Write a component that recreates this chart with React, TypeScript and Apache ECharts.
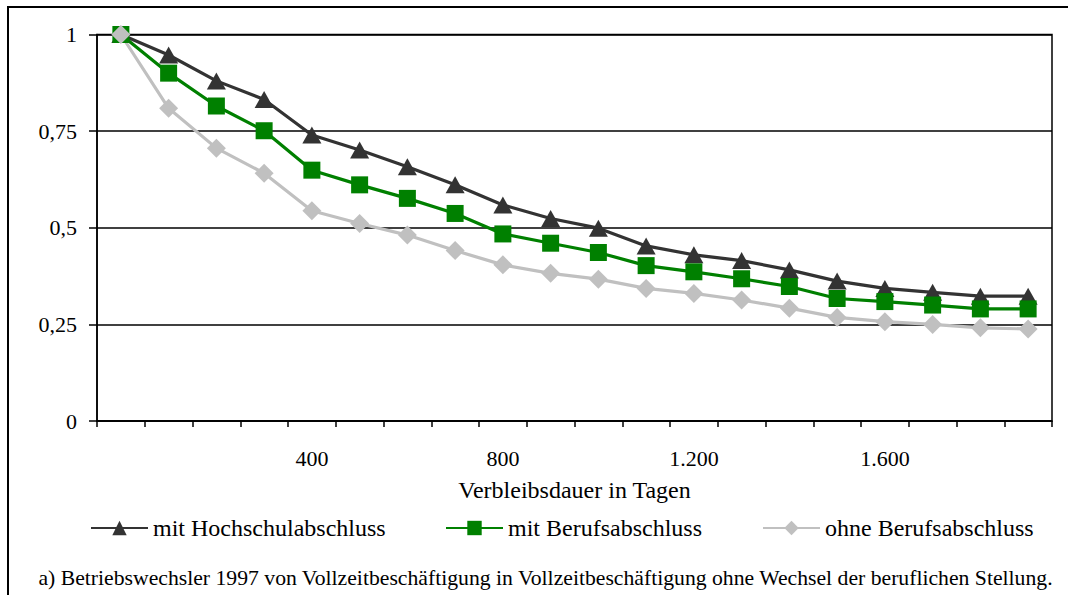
import React, { useEffect, useRef } from "react";
import * as echarts from "echarts";

// Verbleibsdauer in Tagen: 0, 100, ..., 1900
const days = [0, 100, 200, 300, 400, 500, 600, 700, 800, 900, 1000, 1100, 1200, 1300, 1400, 1500, 1600, 1700, 1800, 1900];

const hochschul = [1, 0.947, 0.88, 0.832, 0.74, 0.701, 0.658, 0.611, 0.559, 0.524, 0.499, 0.453, 0.43, 0.415, 0.391, 0.362, 0.343, 0.333, 0.323, 0.323];
const beruf = [1, 0.9, 0.815, 0.751, 0.649, 0.611, 0.576, 0.537, 0.484, 0.46, 0.436, 0.402, 0.386, 0.368, 0.348, 0.317, 0.309, 0.3, 0.29, 0.29];
const ohne = [1, 0.809, 0.706, 0.641, 0.544, 0.511, 0.481, 0.441, 0.404, 0.382, 0.367, 0.343, 0.33, 0.313, 0.292, 0.268, 0.257, 0.25, 0.241, 0.238];

const seriesNames = ["mit Hochschulabschluss", "mit Berufsabschluss", "ohne Berufsabschluss"];
const xAxisTitle = "Verbleibsdauer in Tagen";
const footnote = "a) Betriebswechsler 1997 von Vollzeitbeschäftigung in Vollzeitbeschäftigung ohne Wechsel der beruflichen Stellung.";

const FONT = "Liberation Serif, Times New Roman, serif";

const deNumber = (v: number) => {
  const s = String(v);
  if (v >= 1000) return s.slice(0, s.length - 3) + "." + s.slice(s.length - 3);
  return s.replace(".", ",");
};

export default function App() {
  const ref = useRef<HTMLDivElement>(null);

  useEffect(() => {
    if (!ref.current) return;
    const chart = echarts.init(ref.current, null, { renderer: "svg" });

    const legendBase = {
      top: 516,
      itemWidth: 57,
      itemHeight: 18,
      itemGap: 0,
      padding: 0,
      textStyle: { fontFamily: FONT, fontSize: 24, color: "#000" },
    };

    chart.setOption({
      animation: false,
      backgroundColor: "#fff",
      textStyle: { fontFamily: FONT },
      grid: {
        left: 97,
        right: 16,
        top: 34.5,
        bottom: 174,
        show: true,
        borderColor: "#000",
        borderWidth: 1.5,
        backgroundColor: "transparent",
      },
      legend: [
        { ...legendBase, left: 90, data: [seriesNames[0]] },
        { ...legendBase, left: 445, data: [seriesNames[1]] },
        { ...legendBase, left: 762, data: [seriesNames[2]] },
      ],
      xAxis: {
        type: "category",
        data: days,
        boundaryGap: true,
        name: xAxisTitle,
        nameLocation: "middle",
        nameGap: 57,
        nameTextStyle: { fontFamily: FONT, fontSize: 24, color: "#000" },
        axisLine: { lineStyle: { color: "#000", width: 1.5 } },
        axisTick: { show: true, interval: 0, length: 6, lineStyle: { color: "#000", width: 1.5 } },
        axisLabel: {
          interval: (i: number) => i > 0 && i % 4 === 0,
          formatter: (v: string) => deNumber(Number(v)),
          margin: 26,
          fontFamily: FONT,
          fontSize: 22,
          color: "#000",
        },
        splitLine: { show: false },
      },
      yAxis: {
        type: "value",
        min: 0,
        max: 1,
        interval: 0.25,
        axisLine: { show: true, lineStyle: { color: "#000", width: 1.5 } },
        axisTick: { show: true, length: 8, lineStyle: { color: "#000", width: 1.5 } },
        axisLabel: {
          formatter: (v: number) => deNumber(v),
          margin: 20,
          fontFamily: FONT,
          fontSize: 22,
          color: "#000",
        },
        splitLine: { lineStyle: { color: "#000", width: 1.5 } },
      },
      series: [
        {
          name: seriesNames[0],
          type: "line",
          data: hochschul,
          symbol: "triangle",
          symbolSize: [19, 17],
          color: "#333333",
          lineStyle: { width: 3.2, color: "#333333" },
          itemStyle: { color: "#333333" },
        },
        {
          name: seriesNames[1],
          type: "line",
          data: beruf,
          symbol: "rect",
          symbolSize: 17,
          color: "#008000",
          lineStyle: { width: 3.2, color: "#008000" },
          itemStyle: { color: "#008000" },
        },
        {
          name: seriesNames[2],
          type: "line",
          data: ohne,
          symbol: "diamond",
          symbolSize: 19,
          color: "#c0c0c0",
          lineStyle: { width: 3.2, color: "#c0c0c0" },
          itemStyle: { color: "#c0c0c0" },
        },
      ],
      graphic: [
        {
          type: "rect",
          silent: true,
          shape: { x: 8, y: 7, width: 1200, height: 800 },
          style: { fill: "none", stroke: "#000", lineWidth: 2 },
        },
        {
          type: "text",
          silent: true,
          x: 545.5,
          y: 578,
          style: {
            text: footnote,
            fontFamily: FONT,
            fontSize: 21.7,
            fill: "#000",
            align: "center",
            verticalAlign: "middle",
          },
        },
      ],
    });

    return () => chart.dispose();
  }, []);

  return (
    <div
      ref={ref}
      style={{ position: "absolute", left: 0, top: 0, width: 1068, height: 595 }}
    />
  );
}
